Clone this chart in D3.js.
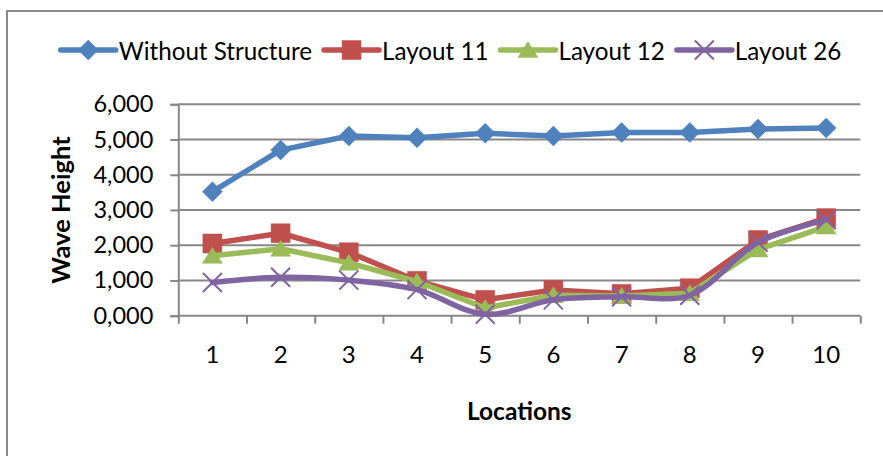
<!DOCTYPE html>
<html>
<head>
<meta charset="utf-8">
<script src="https://cdn.jsdelivr.net/npm/d3@7"></script>
<style>
  html, body { margin: 0; padding: 0; background: #fff; }
  svg { display: block; font-family: Lato, "DejaVu Sans", sans-serif; }
</style>
</head>
<body>
<svg id="chart" width="883" height="456"></svg>
<script>
// Wave height at each location, per scenario
const categories = ["1", "2", "3", "4", "5", "6", "7", "8", "9", "10"];
const withoutStructure = [3.52, 4.70, 5.10, 5.05, 5.18, 5.10, 5.20, 5.20, 5.30, 5.33];
const layout11 = [2.05, 2.34, 1.80, 0.99, 0.45, 0.73, 0.62, 0.78, 2.15, 2.77];
const layout12 = [1.70, 1.90, 1.50, 0.97, 0.22, 0.58, 0.56, 0.64, 1.88, 2.53];
const layout26 = [0.94, 1.09, 1.01, 0.74, 0.04, 0.45, 0.54, 0.58, 2.08, 2.72];
const seriesNames = ["Without Structure", "Layout 11", "Layout 12", "Layout 26"];
const yTicks = [0, 1, 2, 3, 4, 5, 6];
const xTitle = "Locations";
const yTitle = "Wave Height";

// Values use a comma as decimal separator (e.g. 6,000)
const locale = d3.formatLocale({ decimal: ",", thousands: ".", grouping: [3], currency: ["", ""] });
const fmt = locale.format(".3f");

// Marker shapes, size = half extent in px
const shapes = {
  diamond: { draw(c, r) { c.moveTo(0, -r); c.lineTo(r, 0); c.lineTo(0, r); c.lineTo(-r, 0); c.closePath(); } },
  square: { draw(c, r) { c.rect(-r, -r, 2 * r, 2 * r); } },
  triangle: { draw(c, r) { c.moveTo(0, -r * 0.85); c.lineTo(r, r * 0.75); c.lineTo(-r, r * 0.75); c.closePath(); } },
  cross: { draw(c, r) { c.moveTo(-r, -r); c.lineTo(r, r); c.moveTo(r, -r); c.lineTo(-r, r); } }
};

const series = [
  { name: seriesNames[0], values: withoutStructure, color: "#4F81BD", shape: "diamond", r: 10, curve: d3.curveLinear },
  { name: seriesNames[1], values: layout11, color: "#C0504D", shape: "square", r: 9.5, curve: d3.curveLinear },
  { name: seriesNames[2], values: layout12, color: "#9BBB59", shape: "triangle", r: 10, curve: d3.curveLinear },
  { name: seriesNames[3], values: layout26, color: "#8064A2", shape: "cross", r: 9.5, curve: d3.curveCatmullRom }
];

const svg = d3.select("#chart");
const W = 883, H = 456;
const plot = { left: 178.3, right: 860.3, top: 104.3, bottom: 315.7 };
const gridColor = "#878787";
const labelSize = 24;

// Chart outer frame
svg.append("rect")
  .attr("x", 7).attr("y", 11)
  .attr("width", W + 20).attr("height", H + 20)
  .attr("fill", "#fff").attr("stroke", "#8a8a8a").attr("stroke-width", 2);

const x = d3.scaleBand().domain(categories).range([plot.left, plot.right]).paddingInner(0).paddingOuter(0);
const xEdge = d3.scaleLinear().domain([0, categories.length]).range([plot.left, plot.right]);
const y = d3.scaleLinear().domain([0, 6]).range([plot.bottom, plot.top]);
const cx = d => x(d) + x.bandwidth() / 2;

// Horizontal gridlines
svg.append("g")
  .selectAll("line")
  .data(yTicks.filter(t => t > 0))
  .join("line")
  .attr("x1", plot.left).attr("x2", plot.right)
  .attr("y1", d => y(d)).attr("y2", d => y(d))
  .attr("stroke", gridColor).attr("stroke-width", 2);

// Y axis
const yAxis = svg.append("g")
  .attr("transform", `translate(${plot.left},0)`)
  .call(d3.axisLeft(y).tickValues(yTicks).tickFormat(fmt).tickSize(8).tickPadding(17));
yAxis.select(".domain").attr("stroke", gridColor).attr("stroke-width", 2);
yAxis.selectAll(".tick line").attr("stroke", gridColor).attr("stroke-width", 2);
yAxis.selectAll(".tick text").attr("font-size", 23.5).attr("fill", "#000").attr("font-family", "Lato");

// X axis: tick marks between categories, labels centered on each category
const xTicks = svg.append("g")
  .attr("transform", `translate(0,${plot.bottom})`)
  .call(d3.axisBottom(xEdge).tickValues(d3.range(categories.length + 1)).tickFormat("").tickSize(8));
xTicks.select(".domain").remove();
xTicks.selectAll(".tick line").attr("stroke", gridColor).attr("stroke-width", 2);

const xLabels = svg.append("g")
  .attr("transform", `translate(0,${plot.bottom})`)
  .call(d3.axisBottom(x).tickSize(0).tickPadding(30));
xLabels.select(".domain").remove();
xLabels.selectAll(".tick text").attr("font-size", labelSize).attr("fill", "#000").attr("font-family", "Lato");

svg.append("line")
  .attr("x1", plot.left - 1).attr("x2", plot.right)
  .attr("y1", plot.bottom).attr("y2", plot.bottom)
  .attr("stroke", gridColor).attr("stroke-width", 2);

// Axis titles
svg.append("text")
  .attr("x", (plot.left + plot.right) / 2).attr("y", 410)
  .attr("text-anchor", "middle").attr("dominant-baseline", "central")
  .attr("font-size", 24.5).attr("font-weight", "bold").attr("fill", "#000")
  .text(xTitle);

svg.append("text")
  .attr("transform", `translate(60,${(plot.top + plot.bottom) / 2}) rotate(-90)`)
  .attr("text-anchor", "middle").attr("dominant-baseline", "central")
  .attr("font-size", 25.5).attr("font-weight", "bold").attr("fill", "#000")
  .text(yTitle);

// Series lines and markers
function drawMarker(sel, s) {
  const isCross = s.shape === "cross";
  sel.attr("d", d3.symbol().type(shapes[s.shape]).size(s.r))
    .attr("fill", isCross ? "none" : s.color)
    .attr("stroke", s.color)
    .attr("stroke-width", isCross ? 2 : 0.5);
}

series.forEach(s => {
  const pts = categories.map((c, i) => [cx(c), y(s.values[i])]);
  const g = svg.append("g");
  g.append("path")
    .attr("d", d3.line().curve(s.curve)(pts))
    .attr("fill", "none").attr("stroke", s.color)
    .attr("stroke-width", 5.5).attr("stroke-linejoin", "round").attr("stroke-linecap", "round");
  g.selectAll("path.m")
    .data(pts)
    .join("path")
    .attr("class", "m")
    .attr("transform", d => `translate(${d[0]},${d[1]})`)
    .call(sel => drawMarker(sel, s));
});

// Legend, laid out left to right and centered
const legend = svg.append("g").attr("transform", "translate(0,50)");
const lineLen = 55, textGap = 3, itemGap = 12;
const items = legend.selectAll("g.item").data(series).join("g").attr("class", "item");
items.append("line")
  .attr("x1", 0).attr("x2", lineLen).attr("y1", 0).attr("y2", 0)
  .attr("stroke", d => d.color).attr("stroke-width", 5.5).attr("stroke-linecap", "round");
items.append("path")
  .attr("transform", `translate(${lineLen / 2},0)`)
  .each(function (d) { drawMarker(d3.select(this), d); });
items.append("text")
  .attr("x", lineLen + textGap).attr("y", 0)
  .attr("dominant-baseline", "central")
  .attr("font-size", 24.2).attr("fill", "#000")
  .text(d => d.name);

let offset = 0;
const widths = [];
items.each(function () {
  const w = lineLen + textGap + d3.select(this).select("text").node().getComputedTextLength();
  widths.push(w);
});
const total = d3.sum(widths) + itemGap * (widths.length - 1);
offset = 451 - total / 2;
items.attr("transform", (d, i) => {
  const t = `translate(${offset},0)`;
  offset += widths[i] + itemGap;
  return t;
});
</script>
</body>
</html>
